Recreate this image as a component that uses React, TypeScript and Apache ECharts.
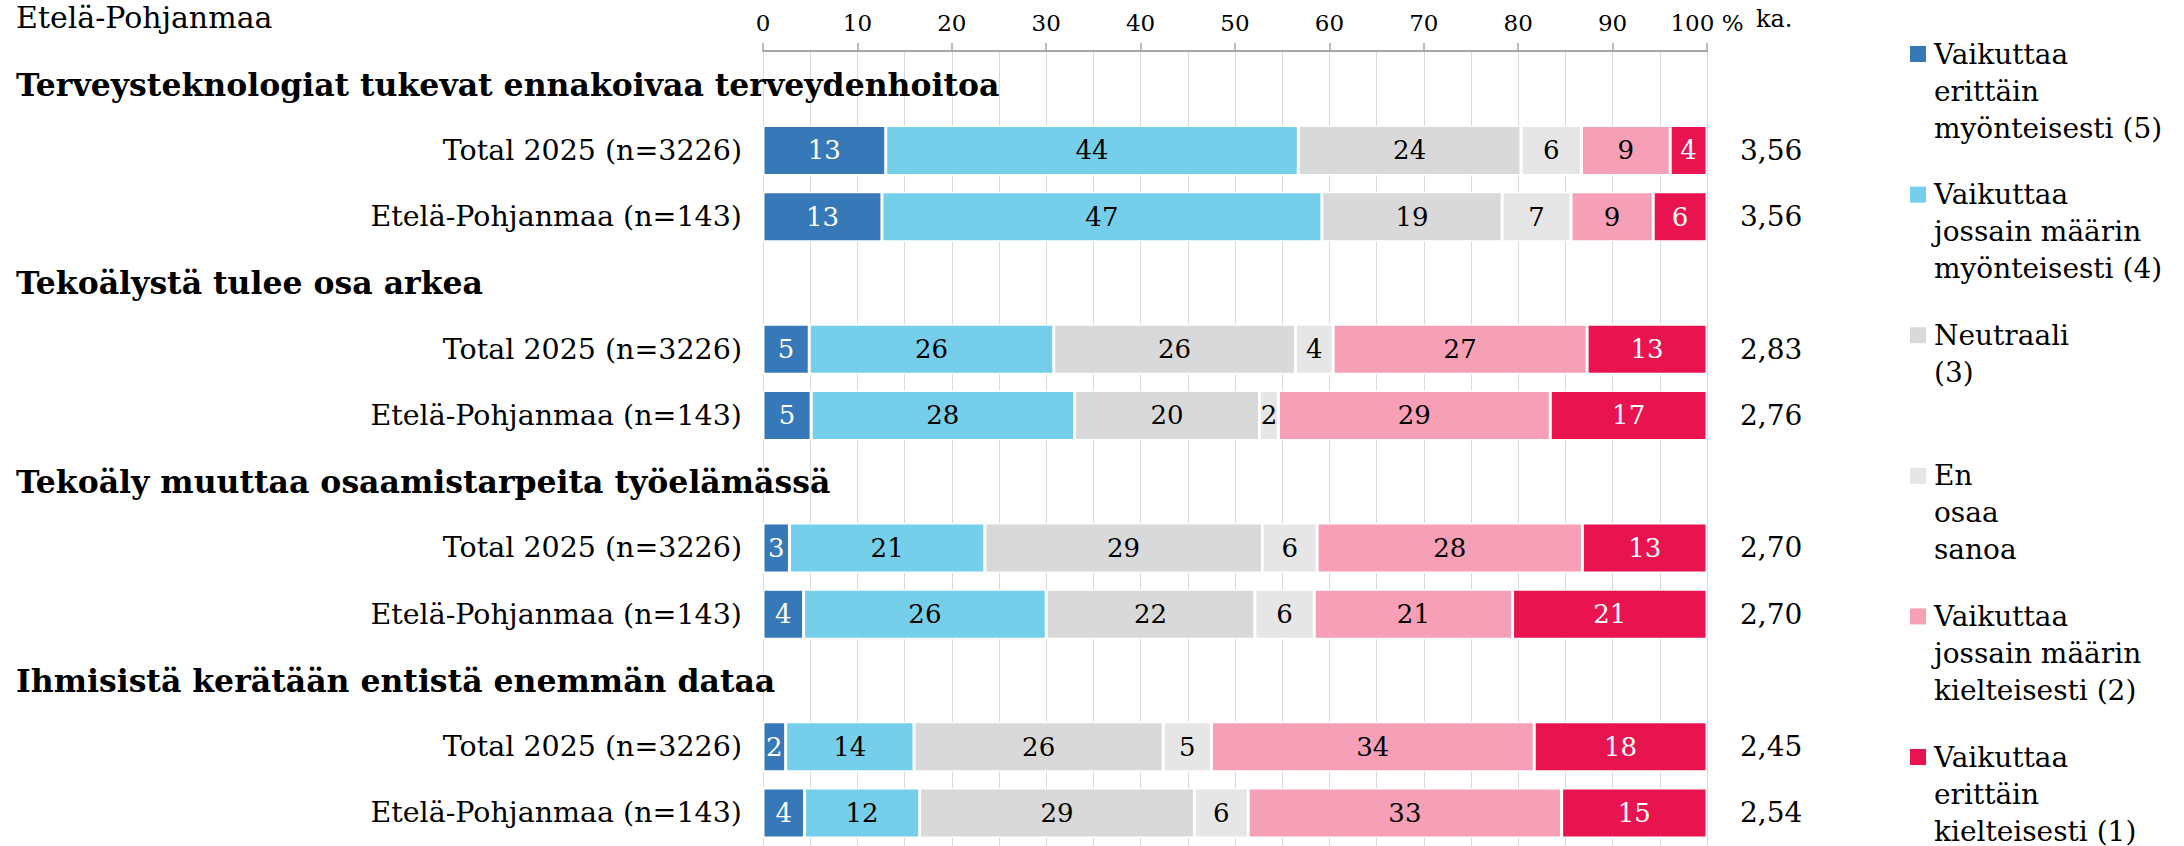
import React, { useEffect, useRef } from "react";
import * as echarts from "echarts";

const FONT = "'DejaVu Serif', Georgia, serif";

const chartTitle = "Etelä-Pohjanmaa";
const questions = [
  "Terveysteknologiat tukevat ennakoivaa terveydenhoitoa",
  "Tekoälystä tulee osa arkea",
  "Tekoäly muuttaa osaamistarpeita työelämässä",
  "Ihmisistä kerätään entistä enemmän dataa",
];
const groupLabels = ["Total 2025 (n=3226)", "Etelä-Pohjanmaa (n=143)"];

const responseNames = [
  "Vaikuttaa erittäin myönteisesti (5)",
  "Vaikuttaa jossain määrin myönteisesti (4)",
  "Neutraali (3)",
  "En osaa sanoa",
  "Vaikuttaa jossain määrin kielteisesti (2)",
  "Vaikuttaa erittäin kielteisesti (1)",
];
const legendLines = [
  ["Vaikuttaa", "erittäin", "myönteisesti (5)"],
  ["Vaikuttaa", "jossain määrin", "myönteisesti (4)"],
  ["Neutraali", "(3)"],
  ["En", "osaa", "sanoa"],
  ["Vaikuttaa", "jossain määrin", "kielteisesti (2)"],
  ["Vaikuttaa", "erittäin", "kielteisesti (1)"],
];
const colors = ["#3778b9", "#75cfea", "#d9d9d9", "#e6e6e6", "#f79fb6", "#e8134f"];
const labelColors = ["#ffffff", "#000000", "#000000", "#000000", "#000000", "#ffffff"];

// rows: Q1 Total, Q1 EP, Q2 Total, Q2 EP, Q3 Total, Q3 EP, Q4 Total, Q4 EP
const veryPositive = [13.0, 12.6, 4.9, 5.1, 2.8, 4.3, 2.4, 4.4];
const somewhatPositive = [43.7, 46.6, 25.9, 27.9, 20.7, 25.7, 13.6, 12.2];
const neutral = [23.6, 19.1, 25.6, 19.6, 29.4, 22.1, 26.4, 29.1];
const dontKnow = [6.4, 7.3, 4.0, 2.0, 5.8, 6.3, 5.1, 5.7];
const somewhatNegative = [9.4, 8.7, 26.9, 28.8, 28.1, 21.0, 34.2, 33.2];
const veryNegative = [3.9, 5.7, 12.7, 16.6, 13.2, 20.6, 18.3, 15.4];
const means = [3.56, 3.56, 2.83, 2.76, 2.7, 2.7, 2.45, 2.54];

const xTicks = [0, 10, 20, 30, 40, 50, 60, 70, 80, 90, 100];

const seriesValues = [veryPositive, somewhatPositive, neutral, dontKnow, somewhatNegative, veryNegative];

function buildOption() {
  const categories: string[] = [];
  const isHeader: boolean[] = [];
  const rowIndex: number[] = [];
  let k = 0;
  questions.forEach((q) => {
    categories.push(q);
    isHeader.push(true);
    rowIndex.push(-1);
    groupLabels.forEach((g) => {
      categories.push(g);
      isHeader.push(false);
      rowIndex.push(k++);
    });
  });

  const series = seriesValues.map((vals, si) => ({
    name: responseNames[si],
    type: "bar",
    stack: "total",
    barWidth: 50,
    yAxisIndex: 0,
    itemStyle: { color: colors[si], borderColor: "#ffffff", borderWidth: 1.5 },
    label: {
      show: true,
      position: "inside",
      color: labelColors[si],
      fontFamily: FONT,
      fontSize: 26,
      formatter: (p: any) => String(Math.round(p.value)),
    },
    emphasis: { disabled: true },
    data: rowIndex.map((r) => (r < 0 ? "-" : vals[r])),
  }));

  const legendGraphics = responseNames.map((name, i) => ({
    type: "group",
    x: 1910,
    y: 46 + i * 140.6,
    children: [
      {
        type: "rect",
        shape: { x: 0, y: 0, width: 16, height: 16 },
        style: { fill: colors[i] },
      },
      {
        type: "text",
        x: 24,
        y: 8 - 18.5,
        style: {
          text: legendLines[i].join("\n"),
          fontFamily: FONT,
          fontSize: 28,
          lineHeight: 37,
          fill: "#000000",
          verticalAlign: "top",
          align: "left",
        },
      },
    ],
  }));

  return {
    animation: false,
    backgroundColor: "#ffffff",
    title: {
      text: chartTitle,
      left: 16,
      top: 2,
      padding: 0,
      textStyle: { fontFamily: FONT, fontSize: 30, fontWeight: "normal", color: "#000000" },
    },
    grid: { left: 763, top: 51, width: 944, height: 806, containLabel: false },
    xAxis: {
      type: "value",
      position: "top",
      min: 0,
      max: 100,
      interval: 10,
      axisLine: { show: true, lineStyle: { color: "#a6a6a6", width: 2 } },
      axisTick: { show: true, length: 8, lineStyle: { color: "#a6a6a6", width: 1.5 } },
      axisLabel: {
        margin: 17,
        fontFamily: FONT,
        fontSize: 23,
        color: "#000000",
        formatter: (v: number) => (xTicks.indexOf(v) === xTicks.length - 1 ? v + " %" : String(v)),
      },
      splitLine: { show: true, lineStyle: { color: "#d9d9d9", width: 1 } },
      minorTick: { show: false, splitNumber: 2 },
      minorSplitLine: { show: true, lineStyle: { color: "#d9d9d9", width: 1 } },
    },
    yAxis: [
      {
        type: "category",
        data: categories,
        inverse: true,
        axisLine: { show: false },
        axisTick: { show: false },
        splitLine: { show: false },
        axisLabel: {
          interval: 0,
          align: "left",
          margin: 747,
          formatter: (value: string, index: number) =>
            isHeader[index] ? `{h|${value}}` : `{r|${value}}`,
          rich: {
            h: { fontFamily: FONT, fontSize: 31.5, fontWeight: "bold", color: "#000000" },
            r: { fontFamily: FONT, fontSize: 28.5, color: "#000000", width: 726, align: "right" },
          },
        },
      },
      {
        type: "category",
        data: categories,
        inverse: true,
        position: "right",
        axisLine: { show: false },
        axisTick: { show: false },
        splitLine: { show: false },
        axisLabel: {
          interval: 0,
          align: "left",
          margin: 33,
          fontFamily: FONT,
          fontSize: 28,
          color: "#000000",
          formatter: (_v: string, index: number) =>
            rowIndex[index] < 0 ? "" : means[rowIndex[index]].toFixed(2).replace(".", ","),
        },
      },
    ],
    graphic: [
      {
        type: "text",
        x: 1756,
        y: 19,
        style: {
          text: "ka.",
          fontFamily: FONT,
          fontSize: 24,
          fill: "#000000",
          verticalAlign: "middle",
          align: "left",
        },
      },
      ...legendGraphics,
    ],
    series,
  };
}

export default function App() {
  const ref = useRef<HTMLDivElement>(null);
  useEffect(() => {
    const chart = echarts.init(ref.current!, null, { renderer: "svg" });
    chart.setOption(buildOption() as any);
    return () => chart.dispose();
  }, []);
  return (
    <div
      ref={ref}
      style={{ position: "absolute", left: 0, top: 0, width: 2184, height: 846, background: "#ffffff" }}
    />
  );
}
